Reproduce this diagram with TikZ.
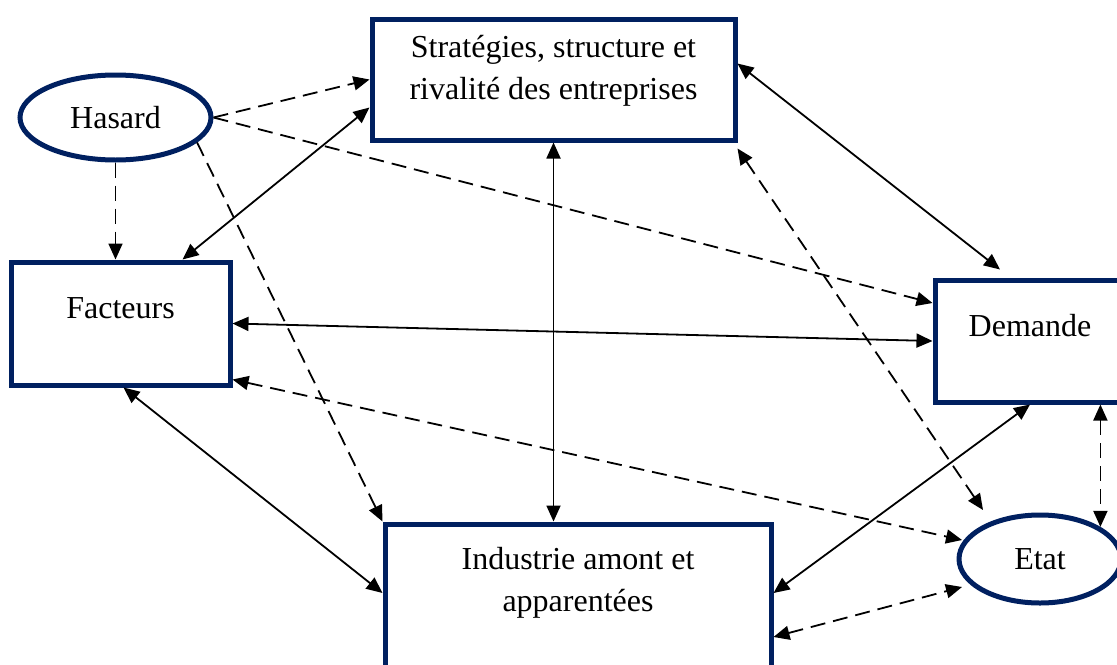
\documentclass[tikz,border=0pt]{standalone}
\usepackage{fontspec}
\setmainfont{Liberation Serif}
\usetikzlibrary{arrows.meta,shapes.geometric,calc}
\definecolor{navy}{RGB}{0,32,96}

\begin{document}
\begin{tikzpicture}[x=0.5pt,y=-0.5pt,
  box/.style={draw=navy, line width=2.5pt, rectangle, inner sep=0pt},
  oval/.style={draw=navy, line width=2.5pt, ellipse, inner sep=0pt,
               font=\fontsize{16}{21}\selectfont},
  lbl/.style={inner sep=0pt, align=center, font=\fontsize{16}{21}\selectfont},
  tip/.tip={Triangle[length=8pt,width=7pt]},
  link/.style={line width=0.9pt, -tip},
  both/.style={line width=0.9pt, tip-tip},
  dsh/.style={dash pattern=on 7.5pt off 4pt}]

\useasboundingbox (0,0) rectangle (1117,664);

% the six determinants
\node[box, minimum width=181.5pt, minimum height=60.5pt] (strat) at (553.5,79.5) {};
\node[box, minimum width=109.5pt, minimum height=61.5pt] (fact) at (120.5,323.5) {};
\node[box, minimum width=95pt, minimum height=61pt] (dem) at (1030,341) {};
\node[box, minimum width=193pt, minimum height=88pt] (ind) at (578,612) {};
\node[oval, minimum width=95.5pt, minimum height=42.5pt] (hasard) at (115.5,117.5) {Hasard};
\node[oval, minimum width=81pt, minimum height=44pt] (etat) at (1040,559) {Etat};

% box captions (base = baseline of the last line)
\node[lbl, anchor=base] (strat-t) at ($(strat.north)+(0,83)$)
  {Stratégies, structure et\\rivalité des entreprises};
\node[lbl, anchor=base] (fact-t) at ($(fact.north)+(0,59)$) {Facteurs};
\node[lbl, anchor=base] (dem-t) at ($(dem.north)+(0,59)$) {Demande};
\node[lbl, anchor=base] (ind-t) at ($(ind.north)+(0,90)$)
  {Industrie amont et\\apparentées};

% influences of chance
\draw[link,dsh] (hasard.east) -- (strat.west);
\draw[link,dsh] (hasard.east) -- ($(dem.west)+(0,-38)$);
\draw[link,dsh] (hasard.south) -- (hasard.south |- fact.north);
\draw[link,dsh] (hasard.-17) -- (ind.north west);

% mutual relations of the diamond
\draw[both] ($(fact.north)+(62,0)$) -- ($(strat.west)+(0,28)$);
\draw[both] (fact.east) -- (dem.west);
\draw[both] ($(fact.south)+(3,0)$) -- ($(ind.west)+(0,-19)$);
\draw[both] (strat.south) -- (strat.south |- ind.north);
\draw[both] ($(strat.east)+(0,-16)$) -- ($(dem.north)+(-30,-8)$);
\draw[both] (dem.south) -- ($(ind.east)+(0,-19)$);

% relations with the state
\draw[both,dsh] ($(fact.south east)+(0,-8)$) -- ($(etat.center)+(-78,-19)$);
\draw[both,dsh] ($(strat.south east)+(0,6)$) -- ($(etat.center)+(-57,-49)$);
\draw[both,dsh] (etat.28 |- dem.south) -- (etat.28);
\draw[both,dsh] ($(ind.east)+(0,25)$) -- ($(etat.center)+(-78,28)$);
\end{tikzpicture}
\end{document}
